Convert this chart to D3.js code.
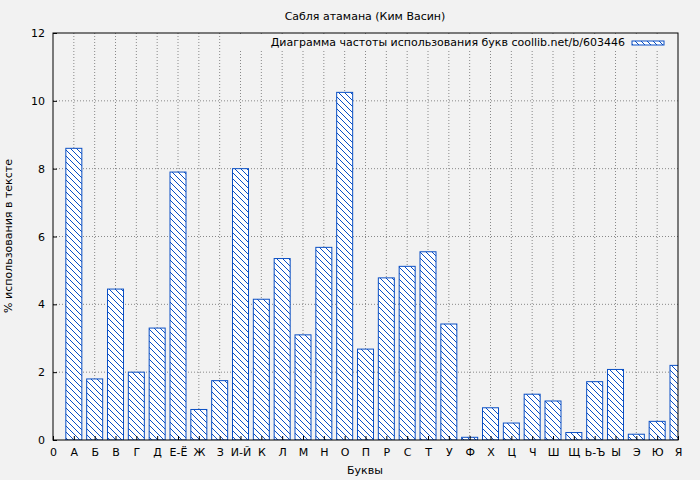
<!DOCTYPE html>
<html lang="en">
<head>
<meta charset="UTF-8">
<title>letters</title>
<script src="https://cdn.jsdelivr.net/npm/d3@7"></script>
<style>
body { margin: 0; background: #f2f2f2; }
text { font-family: "DejaVu Sans", sans-serif; font-size: 11px; fill: #000; }
.grid line { stroke: #888; stroke-dasharray: 1,2; }
</style>
</head>
<body>
<svg id="svg" width="700" height="480"></svg>
<script>
var letters = ['А','Б','В','Г','Д','Е-Ё','Ж','З','И-Й','К','Л','М','Н','О','П','Р','С','Т','У','Ф','Х','Ц','Ч','Ш','Щ','Ь-Ъ','Ы','Э','Ю','Я'];
var values = [8.6,1.8,4.45,2.0,3.3,7.9,0.9,1.75,8.0,4.15,5.35,3.1,5.68,10.25,2.68,4.78,5.12,5.55,3.42,0.08,0.95,0.5,1.35,1.15,0.22,1.72,2.08,0.17,0.55,2.2];
var yTicks = [0,2,4,6,8,10,12];

var svg = d3.select('#svg');
var m = {l: 53, r: 678, t: 33, b: 440};
var blue = '#0a4fc4';

var defs = svg.append('defs');
var pat = defs.append('pattern').attr('id', 'hatch').attr('patternUnits', 'userSpaceOnUse')
	.attr('width', 6).attr('height', 6);
pat.append('rect').attr('width', 6).attr('height', 6).attr('fill', '#fff');
pat.append('path').attr('d', 'M-1,-1 L7,7 M-1,5 L1,7 M5,-1 L7,1')
	.attr('stroke', blue).attr('stroke-width', 1);
defs.append('clipPath').attr('id', 'clip').append('rect')
	.attr('x', m.l).attr('y', m.t).attr('width', m.r - m.l).attr('height', m.b - m.t);

var xLabels = ['0'].concat(letters);
var x = d3.scaleLinear().domain([0, letters.length]).range([m.l, m.r]);
var y = d3.scaleLinear().domain([0, 12]).range([m.b, m.t]);

svg.append('rect').attr('x', m.l).attr('y', m.t).attr('width', m.r - m.l).attr('height', m.b - m.t)
	.attr('fill', '#f2f2f2');

var grid = svg.append('g').attr('class', 'grid');
grid.selectAll('.v').data(d3.range(1, letters.length)).enter().append('line')
	.attr('x1', d => x(d)).attr('x2', d => x(d)).attr('y1', m.t).attr('y2', m.b);
grid.selectAll('.h').data(yTicks.slice(1, -1)).enter().append('line')
	.attr('x1', m.l).attr('x2', m.r).attr('y1', d => y(d)).attr('y2', d => y(d));

var bw = 16;
svg.append('g').attr('clip-path', 'url(#clip)').selectAll('rect').data(values).enter().append('rect')
	.attr('x', (d, i) => x(i + 1) - bw / 2).attr('width', bw)
	.attr('y', d => y(d)).attr('height', d => y(0) - y(d))
	.attr('fill', 'url(#hatch)').attr('stroke', blue).attr('stroke-width', 1);

svg.append('rect').attr('x', m.l).attr('y', m.t).attr('width', m.r - m.l).attr('height', m.b - m.t)
	.attr('fill', 'none').attr('stroke', '#000');

var xa = svg.append('g').attr('transform', 'translate(0,' + m.b + ')')
	.call(d3.axisBottom(x).tickValues(d3.range(0, letters.length + 1)).tickFormat(i => xLabels[i]).tickSize(-4).tickPadding(8));
var ya = svg.append('g').attr('transform', 'translate(' + m.l + ',0)')
	.call(d3.axisLeft(y).tickValues(yTicks).tickSize(-4).tickPadding(8));
[xa, ya].forEach(a => { a.select('.domain').remove(); a.selectAll('text').style('font-size', '11px'); });

svg.append('text').attr('x', 365).attr('y', 20).attr('text-anchor', 'middle').text('Сабля атамана (Ким Васин)');
svg.append('text').attr('x', 365).attr('y', 474).attr('text-anchor', 'middle').text('Буквы');
svg.append('text').attr('transform', 'translate(12,236) rotate(-90)').attr('text-anchor', 'middle').text('% использования в тексте');

svg.append('rect').attr('x', 240).attr('y', 36).attr('width', 432).attr('height', 14).attr('fill', '#f2f2f2');
svg.append('text').attr('x', 625).attr('y', 46).attr('text-anchor', 'end')
	.text('Диаграмма частоты использования букв coollib.net/b/603446');
svg.append('rect').attr('x', 632).attr('y', 41).attr('width', 32).attr('height', 4)
	.attr('fill', 'url(#hatch)').attr('stroke', blue);
</script>
</body>
</html>
